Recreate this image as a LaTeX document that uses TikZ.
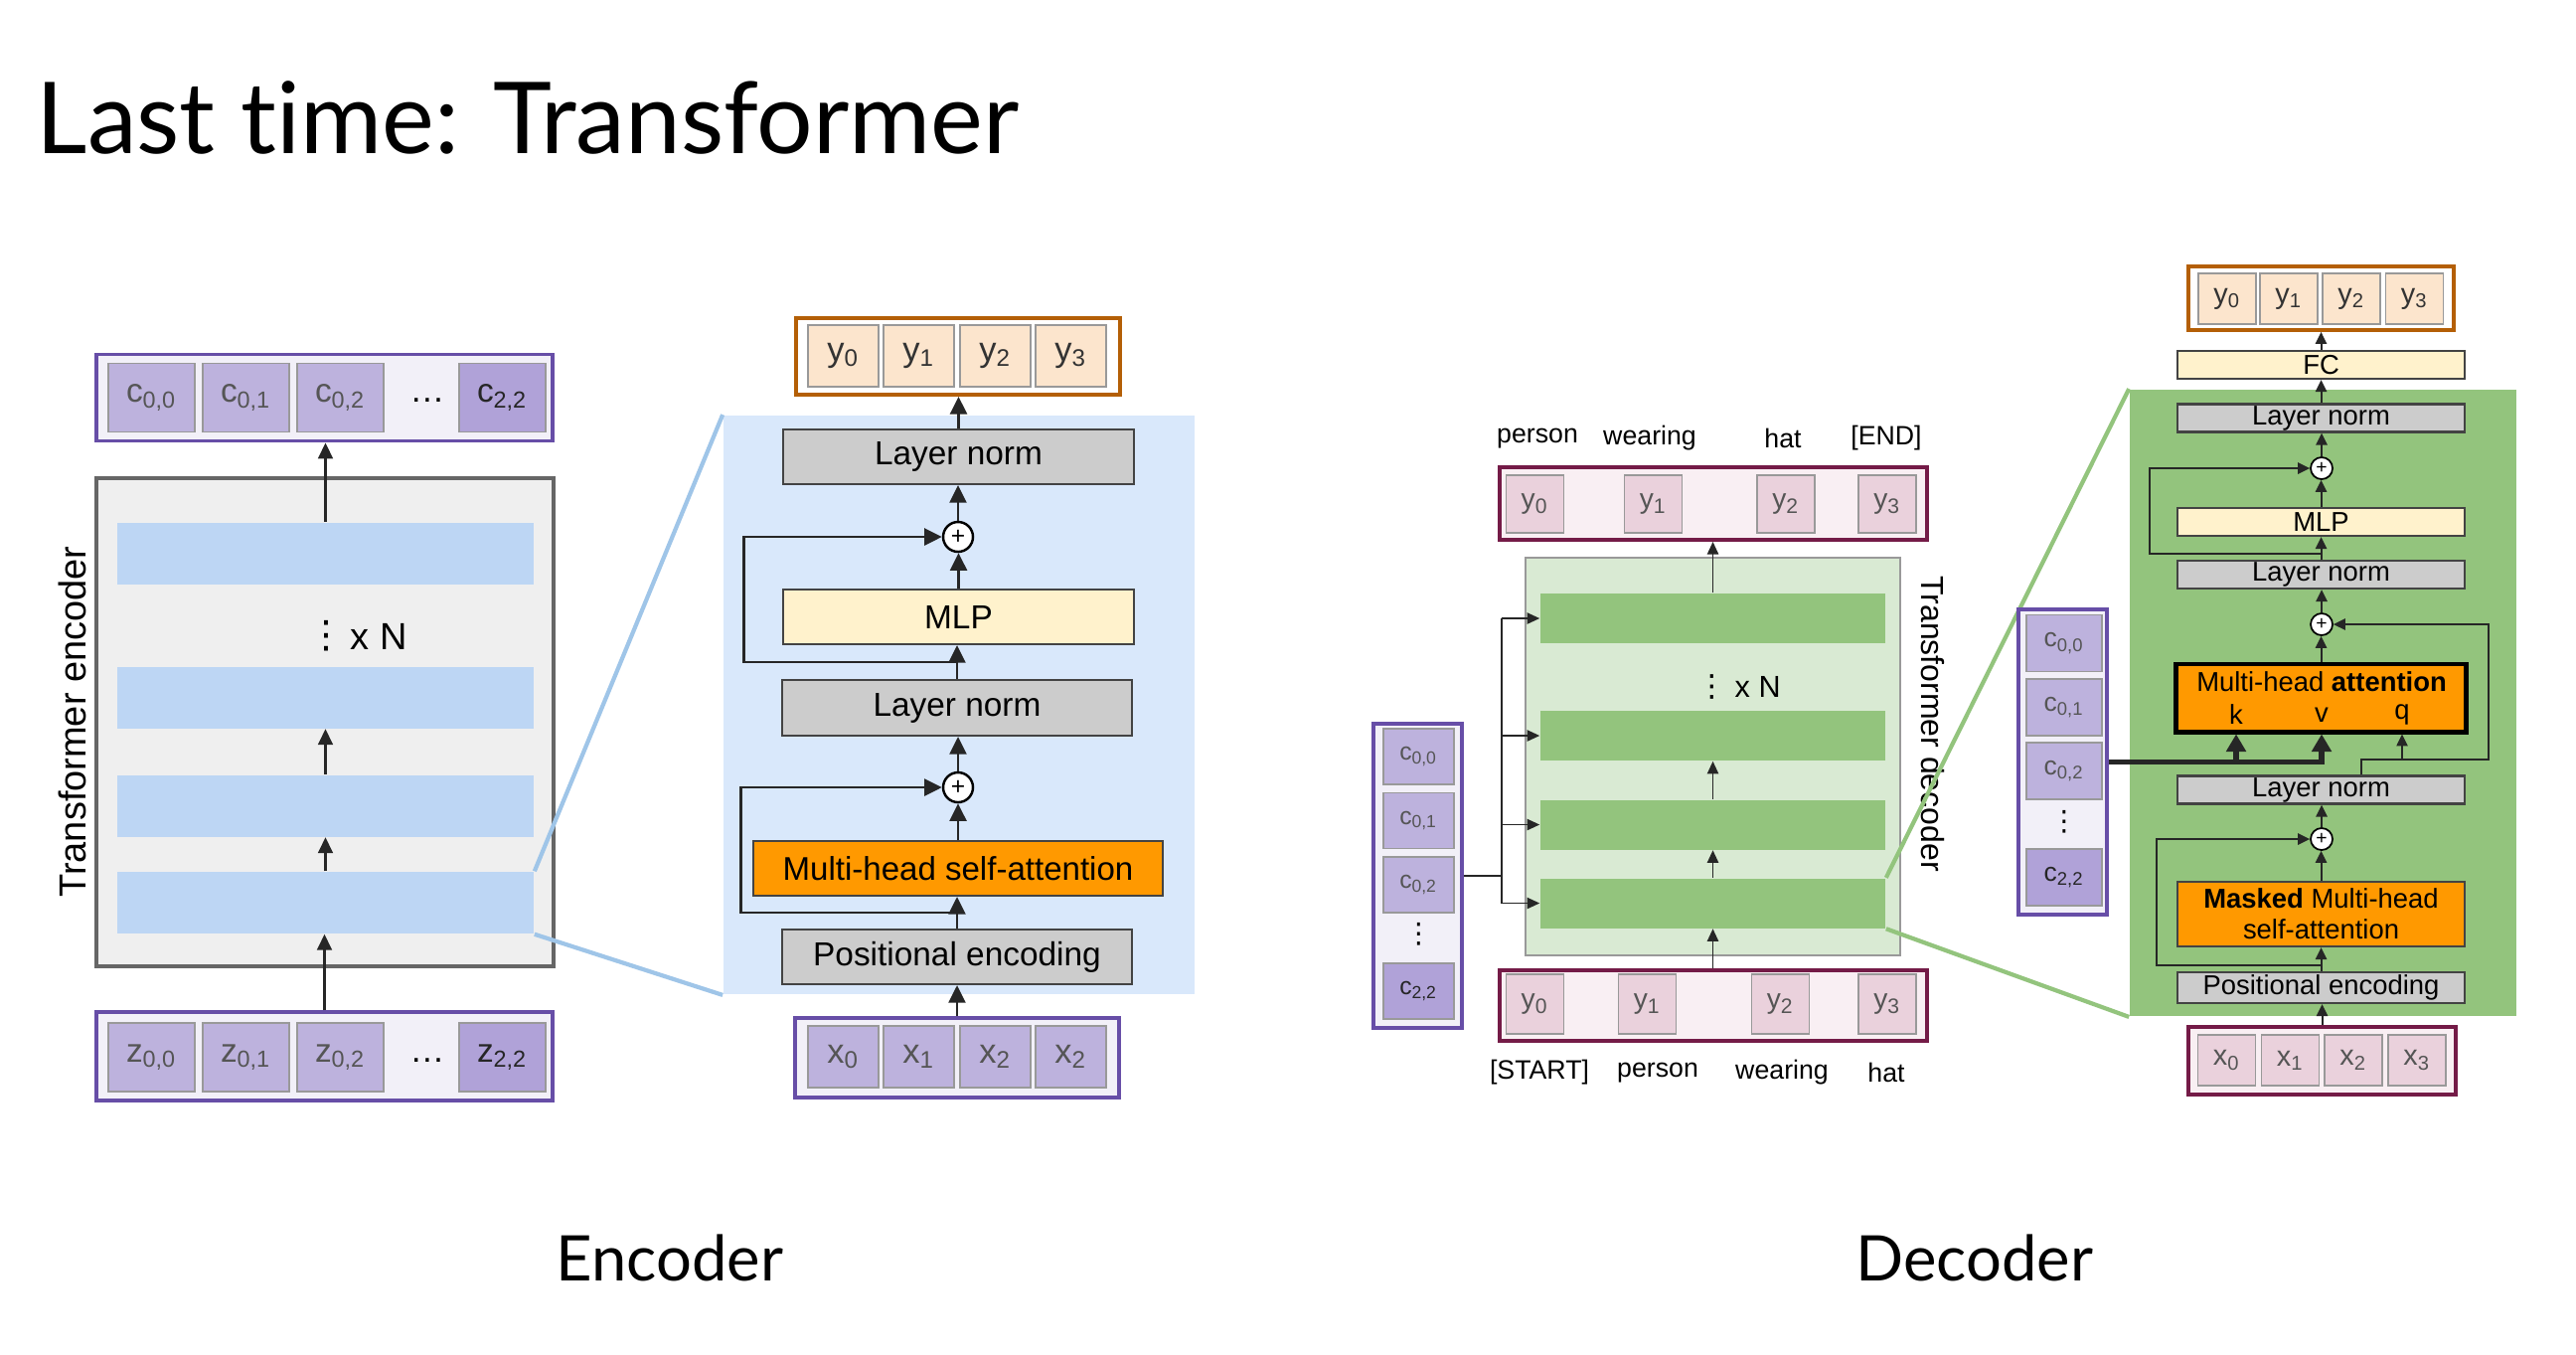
\documentclass[tikz,border=0pt]{standalone}
\usepackage{fontspec}
\setmainfont{Liberation Sans}
\newfontfamily\headfont[Ligatures=NoCommon]{Lato}
\newfontfamily\symfont{DejaVu Sans}
\usetikzlibrary{arrows.meta,calc}

\newcommand{\lowsub}[1]{\textsubscript{#1}}
\newcommand{\setfs}[1]{\fontsize{#1}{#1}\selectfont}
\newcommand{\vdotsym}{{\symfont ⋮}}

\definecolor{purpleline}{HTML}{674EA7}
\definecolor{purplerow}{HTML}{F2F0F8}
\definecolor{purplecell}{HTML}{BDB2DD}
\definecolor{purpledark}{HTML}{B0A2D8}
\definecolor{orangeline}{HTML}{B45F06}
\definecolor{orangecell}{HTML}{FCE5CD}
\definecolor{maroonline}{HTML}{741B47}
\definecolor{pinkrow}{HTML}{F9EFF3}
\definecolor{pinkcell}{HTML}{EAD1DC}
\definecolor{grayfill}{HTML}{EFEFEF}
\definecolor{grayline}{HTML}{666666}
\definecolor{bluebar}{HTML}{BDD6F4}
\definecolor{bluebg}{HTML}{D9E8FB}
\definecolor{bluezoom}{HTML}{9FC5E8}
\definecolor{lnfill}{HTML}{CCCCCC}
\definecolor{lnline}{HTML}{434343}
\definecolor{mlpfill}{HTML}{FFF2CC}
\definecolor{attnfill}{HTML}{FF9900}
\definecolor{greenbar}{HTML}{93C47D}
\definecolor{greenbox}{HTML}{D9EAD3}
\definecolor{celltext}{HTML}{555555}
\definecolor{cellline}{HTML}{999999}

\tikzset{
  rowbox/.style={draw=#1, line width=1.1pt, inner sep=0pt},
  cell/.style={draw=cellline, line width=0.5pt, inner sep=0pt, text=celltext},
  layer/.style={draw=lnline, line width=0.6pt, inner sep=0pt},
  plus/.style={circle, draw=black, fill=white, inner sep=0pt},
  tight/.style={inner sep=0pt},
  earr/.style={-{Triangle[length=4.5pt,width=4.2pt]}, line width=0.65pt, draw=black!85},
  barr/.style={-{Triangle[length=5pt,width=4.8pt]}, line width=0.75pt, draw=black!85},
  darr/.style={-{Triangle[length=3.6pt,width=3.2pt]}, line width=0.5pt, draw=black!85},
  ddarr/.style={-{Triangle[length=3.4pt,width=3.2pt]}, line width=0.55pt, draw=black!85},
  thickarr/.style={-{Triangle[length=5pt,width=5.5pt]}, line width=1.6pt, draw=black!85},
}

\begin{document}
\begin{tikzpicture}[x=0.01cm, y=-0.01cm]
  \fill[white] (0,0) rectangle (2592,1362);
  \useasboundingbox (0,0) rectangle (2592,1362);

  % Titles
  \node[anchor=base west, inner sep=0pt, font=\headfont\setfs{28.4}] (title) at (36,154) {Last time: Transformer};
  \node[font=\headfont\setfs{18}] (enclbl) at (674,1265) {Encoder};
  \node[font=\headfont\setfs{18}] (declbl) at (1987,1265) {Decoder};

  % ---------------- Encoder overview ----------------
  \node[draw=grayline, line width=1.3pt, fill=grayfill, minimum width=4.60cm, minimum height=4.91cm] (egray) at (327,726.5) {};
  \foreach \i/\y in {1/908,2/810.5,3/701.5,4/556.5} {
    \node[fill=bluebar, minimum width=4.19cm, minimum height=0.62cm, inner sep=0pt] (eb\i) at (327.5,\y) {};
  }
  \node[tight, font=\setfs{10.8}] (evd) at (328,640) {\vdotsym};
  \node[tight, anchor=west, font=\setfs{10.8}] (exn) at (352,640) {x N};
  \node[rotate=90, font=\setfs{10.8}] (enctitle) at (73,726) {Transformer encoder};

  % output row
  \node[rowbox=purpleline, fill=purplerow, minimum width=4.59cm, minimum height=0.87cm] (ecrow) at (326.5,400) {};
  \foreach \i/\x/\lab in {0/152.5/{c\lowsub{0,0}},1/247.5/{c\lowsub{0,1}},2/342.5/{c\lowsub{0,2}}} {
    \node[cell, fill=purplecell, minimum width=0.87cm, minimum height=0.69cm, font=\setfs{9.5}] (ec\i) at (\x,400) {\lab};
  }
  \node[cell, fill=purpledark, text=black!85, minimum width=0.87cm, minimum height=0.69cm, font=\setfs{9.5}] (ec3) at (505.5,400) {c\lowsub{2,2}};
  \node[tight, font=\setfs{10}] (ecdots) at (430,403) {\dots};

  % input row
  \node[rowbox=purpleline, fill=purplerow, minimum width=4.59cm, minimum height=0.89cm] (ezrow) at (326.5,1062.5) {};
  \foreach \i/\x/\lab in {0/152.5/{z\lowsub{0,0}},1/247.5/{z\lowsub{0,1}},2/342.5/{z\lowsub{0,2}}} {
    \node[cell, fill=purplecell, minimum width=0.87cm, minimum height=0.69cm, font=\setfs{9.5}] (ez\i) at (\x,1063.5) {\lab};
  }
  \node[cell, fill=purpledark, text=black!85, minimum width=0.87cm, minimum height=0.69cm, font=\setfs{9.5}] (ez3) at (505.5,1063.5) {z\lowsub{2,2}};
  \node[tight, font=\setfs{10}] (ezdots) at (430,1067) {\dots};

  \draw[earr] (ezrow.north) -- (ezrow.north |- eb1.south);
  \draw[earr] (eb1.north) -- (eb1.north |- eb2.south);
  \draw[earr] (eb2.north) -- (eb2.north |- eb3.south);
  \draw[earr] (eb4.north) -- (eb4.north |- ecrow.south);

  % ---------------- Encoder block ----------------
  \node[fill=bluebg, minimum width=4.74cm, minimum height=5.82cm, inner sep=0pt] (encbg) at (965,709) {};
  \draw[bluezoom, line width=1.2pt] (eb1.north east) -- (encbg.north west);
  \draw[bluezoom, line width=1.2pt] (eb1.south east) -- (encbg.south west);

  \node[rowbox=orangeline, fill=white, minimum width=3.26cm, minimum height=0.77cm] (eyrow) at (964,358.5) {};
  \foreach \i/\x in {0/848.5,1/924.5,2/1001.5,3/1077.5} {
    \node[cell, fill=orangecell, text=black!80, minimum width=0.71cm, minimum height=0.62cm, font=\setfs{9.8}] (ey\i) at (\x,358) {y\lowsub{\i}};
  }
  \node[layer, fill=lnfill, minimum width=3.53cm, minimum height=0.55cm, font=\setfs{9.5}] (eln2) at (964.5,459.5) {Layer norm};
  \node[plus, line width=0.7pt, minimum size=0.30cm, font=\setfs{7}] (eplus2) at (964,540) {+};
  \node[layer, fill=mlpfill, minimum width=3.53cm, minimum height=0.55cm, font=\setfs{9.5}] (emlp) at (964.5,620.5) {MLP};
  \node[layer, fill=lnfill, minimum width=3.52cm, minimum height=0.56cm, font=\setfs{9.5}] (eln1) at (963,712) {Layer norm};
  \node[plus, line width=0.7pt, minimum size=0.30cm, font=\setfs{7}] (eplus1) at (964,792) {+};
  \node[layer, fill=attnfill, minimum width=4.12cm, minimum height=0.55cm, font=\setfs{9.4}] (emhsa) at (964,873.5) {Multi-head self-attention};
  \node[layer, fill=lnfill, minimum width=3.52cm, minimum height=0.55cm, font=\setfs{9.5}] (epe) at (963,962.5) {Positional encoding};

  \node[rowbox=purpleline, fill=purplerow, minimum width=3.26cm, minimum height=0.80cm] (exrow) at (963,1064) {};
  \foreach \i/\x/\lab in {0/848.5/0,1/924.5/1,2/1001.5/2,3/1077.5/2} {
    \node[cell, fill=purplecell, minimum width=0.71cm, minimum height=0.62cm, font=\setfs{9.8}] (ex\i) at (\x,1063) {x\lowsub{\lab}};
  }

  \foreach \a/\b in {exrow/epe, epe/emhsa, emhsa/eplus1, eplus1/eln1, eln1/emlp, emlp/eplus2, eplus2/eln2, eln2/eyrow} {
    \draw[barr] (\a.north) -- (\a.north |- \b.south);
  }
  \coordinate (eskip1) at ($(epe.north)!0.5!(emhsa.south)$);
  \draw[barr] (eskip1) -- ++(-218,0) |- (eplus1.west);
  \coordinate (eskip2) at ($(eln1.north)!0.5!(emlp.south)$);
  \draw[barr] (eskip2) -- ++(-215,0) |- (eplus2.west);

  % ---------------- Decoder overview ----------------
  \foreach \i/\x/\w in {0/1547/person,1/1660/wearing,2/1794/hat,3/1898/{[END]}} {
    \node[font=\setfs{7.6}] (dout\i) at (\x,441) {\w};
  }
  \node[rowbox=maroonline, fill=pinkrow, minimum width=4.30cm, minimum height=0.73cm] (dyrow) at (1724,506.5) {};
  \foreach \i/\x in {0/1544.5,1/1663.5,2/1797,3/1899} {
    \node[cell, fill=pinkcell, minimum width=0.58cm, minimum height=0.58cm, font=\setfs{8}] (dy\i) at (\x,507) {y\lowsub{\i}};
  }

  \node[draw=cellline, line width=0.5pt, fill=greenbox, minimum width=3.77cm, minimum height=4.00cm] (dgreen) at (1723.5,761) {};
  \foreach \i/\y in {1/908.5,2/829.5,3/740,4/622} {
    \node[fill=greenbar, minimum width=3.47cm, minimum height=0.50cm, inner sep=0pt] (db\i) at (1723.5,\y) {};
  }
  \node[tight, font=\setfs{8.7}] (dvd) at (1723,691) {\vdotsym};
  \node[tight, anchor=west, font=\setfs{8.7}] (dxn) at (1745,691) {x N};
  \node[rotate=-90, font=\setfs{9.1}] (dectitle) at (1945,728) {Transformer decoder};

  \node[rowbox=purpleline, fill=purplerow, minimum width=0.89cm, minimum height=3.06cm] (dccol) at (1426.5,881) {};
  \foreach \i/\y/\lab in {0/761/{c\lowsub{0,0}},1/825.5/{c\lowsub{0,1}},2/890/{c\lowsub{0,2}}} {
    \node[cell, fill=purplecell, minimum width=0.71cm, minimum height=0.56cm, font=\setfs{7}] (dc\i) at (1427.5,\y) {\lab};
  }
  \node[cell, fill=purpledark, text=black!85, minimum width=0.71cm, minimum height=0.56cm, font=\setfs{7}] (dc3) at (1427.5,997) {c\lowsub{2,2}};
  \node[tight, font=\setfs{8}] (dcdots) at (1427.5,940) {\vdotsym};

  \coordinate (dsplit) at (1511,881);
  \draw[line width=0.5pt, black!85] (dccol.east) -- (dsplit);
  \draw[line width=0.5pt, black!85] (dsplit |- db4.west) -- (dsplit |- db1.west);
  \foreach \i in {1,...,4} {
    \draw[darr] (dsplit |- db\i.west) -- (db\i.west);
  }

  \node[rowbox=maroonline, fill=pinkrow, minimum width=4.30cm, minimum height=0.71cm] (dxrow) at (1724,1011.5) {};
  \foreach \i/\x in {0/1544.5,1/1657.5,2/1791.5,3/1899} {
    \node[cell, fill=pinkcell, minimum width=0.58cm, minimum height=0.60cm, font=\setfs{8}] (dx\i) at (\x,1010) {y\lowsub{\i}};
  }
  \foreach \i/\x/\w in {0/1549/{[START]},1/1668/person,2/1793/wearing,3/1898/hat} {
    \node[font=\setfs{7.6}] (din\i) at (\x,1079) {\w};
  }

  \draw[darr] (db1.north |- dxrow.north) -- (db1.south);
  \draw[darr] (db1.north) -- (db2.south);
  \draw[darr] (db2.north) -- (db3.south);
  \draw[darr] (db4.north) -- (db4.north |- dyrow.south);

  % ---------------- Decoder block ----------------
  \node[fill=greenbar, minimum width=3.89cm, minimum height=6.30cm, inner sep=0pt] (dgbg) at (2337.5,707) {};
  \draw[greenbar, line width=1.2pt] (db1.north east) -- (dgbg.north west);
  \draw[greenbar, line width=1.2pt] (db1.south east) -- (dgbg.south west);

  \node[rowbox=orangeline, fill=white, minimum width=2.67cm, minimum height=0.64cm] (ddyrow) at (2335.5,300) {};
  \foreach \i/\x in {0/2241,1/2303,2/2366,3/2429.5} {
    \node[cell, fill=orangecell, text=black!80, minimum width=0.58cm, minimum height=0.51cm, font=\setfs{8.2}] (ddy\i) at (\x,300.5) {y\lowsub{\i}};
  }
  \node[layer, fill=mlpfill, minimum width=2.89cm, minimum height=0.28cm, font=\setfs{7.8}] (ddfc) at (2335.5,367) {FC};
  \node[layer, fill=lnfill, minimum width=2.89cm, minimum height=0.28cm, font=\setfs{7.8}] (ddln3) at (2335.5,420.5) {Layer norm};
  \node[plus, line width=0.5pt, minimum size=0.22cm, font=\setfs{5.5}] (ddplus3) at (2336,471) {+};
  \node[layer, fill=mlpfill, minimum width=2.89cm, minimum height=0.28cm, font=\setfs{7.8}] (ddmlp) at (2335.5,525) {MLP};
  \node[layer, fill=lnfill, minimum width=2.89cm, minimum height=0.28cm, font=\setfs{7.8}] (ddln2) at (2335.5,578) {Layer norm};
  \node[plus, line width=0.5pt, minimum size=0.22cm, font=\setfs{5.5}] (ddplus2) at (2336,628) {+};
  \node[draw=black, line width=1.4pt, fill=attnfill, minimum width=2.91cm, minimum height=0.68cm, inner sep=0pt] (ddmha) at (2335.5,702) {};
  \node[tight, font=\setfs{7.8}] (ddmhatxt) at (2336,686) {Multi-head \textbf{attention}};
  \foreach \l/\x in {k/2250,v/2336,q/2417} {
    \node[tight, font=\setfs{7.8}] (ddlbl\l) at (\x,719) {\l};
  }
  \node[layer, fill=lnfill, minimum width=2.89cm, minimum height=0.28cm, font=\setfs{7.8}] (ddln1) at (2335.5,794.5) {Layer norm};
  \node[plus, line width=0.5pt, minimum size=0.22cm, font=\setfs{5.5}] (ddplus1) at (2336,844) {+};
  \node[layer, fill=attnfill, minimum width=2.89cm, minimum height=0.65cm, align=center, font=\setfs{7.8}] (ddmask) at (2335.5,919.5) {\textbf{Masked} Multi-head\\[1pt]self-attention};
  \node[layer, fill=lnfill, minimum width=2.89cm, minimum height=0.31cm, font=\setfs{7.8}] (ddpe) at (2335.5,993.5) {Positional encoding};

  \node[rowbox=maroonline, fill=pinkrow, minimum width=2.69cm, minimum height=0.68cm] (ddxrow) at (2336.5,1067) {};
  \foreach \i/\x in {0/2240.5,1/2304.5,2/2368,3/2432} {
    \node[cell, fill=pinkcell, minimum width=0.58cm, minimum height=0.51cm, font=\setfs{8.2}] (ddx\i) at (\x,1066.5) {x\lowsub{\i}};
  }

  \node[rowbox=purpleline, fill=purplerow, minimum width=0.89cm, minimum height=3.07cm] (ddccol) at (2075.5,766.5) {};
  \foreach \i/\y/\lab in {0/647/{c\lowsub{0,0}},1/711.5/{c\lowsub{0,1}},2/775.5/{c\lowsub{0,2}}} {
    \node[cell, fill=purplecell, minimum width=0.76cm, minimum height=0.57cm, font=\setfs{7.5}] (ddc\i) at (2077,\y) {\lab};
  }
  \node[cell, fill=purpledark, text=black!85, minimum width=0.76cm, minimum height=0.57cm, font=\setfs{7.5}] (ddc3) at (2077,882.5) {c\lowsub{2,2}};
  \node[tight, font=\setfs{8}] (ddcdots) at (2077,827) {\vdotsym};

  \foreach \a/\b in {ddxrow/ddpe, ddpe/ddmask, ddmask/ddplus1, ddplus1/ddln1, ddmha/ddplus2, ddplus2/ddln2, ddln2/ddmlp, ddmlp/ddplus3, ddplus3/ddln3, ddln3/ddfc, ddfc/ddyrow} {
    \draw[ddarr] (\a.north) -- (\a.north |- \b.south);
  }
  \coordinate (ddskip1) at ($(ddpe.north)!0.25!(ddmask.south)$);
  \draw[ddarr] (ddskip1) -- ++(-166,0) |- (ddplus1.west);
  \coordinate (ddskip2) at ($(ddln2.north)!0.25!(ddmlp.south)$);
  \draw[ddarr] (ddskip2) -- ++(-173,0) |- (ddplus3.west);

  % query and residual
  \coordinate (ddqj) at (2376,764);
  \draw[ddarr] (ddln1.north -| ddqj) -- (ddqj) -- ++(128,0) |- (ddplus2.east);
  \draw[ddarr] (ddlblq |- ddqj) -- (ddlblq |- ddmha.south);
  % keys and values from the encoder
  \draw[thickarr] (ddccol.east) -| (ddlblv |- ddmha.south);
  \draw[thickarr] (ddlblk |- ddccol.east) -- (ddlblk |- ddmha.south);
\end{tikzpicture}
\end{document}
